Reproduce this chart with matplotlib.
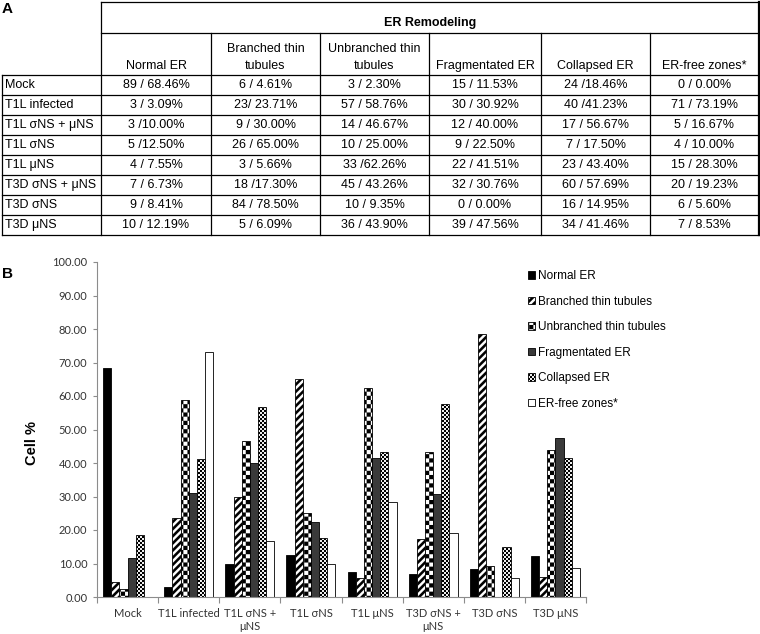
import numpy as np
import matplotlib
matplotlib.use("Agg")
import matplotlib.pyplot as plt
import matplotlib.hatch as mhatch
from matplotlib.path import Path

groups = ["Mock", "T1L infected", "T1L σNS + μNS", "T1L σNS", "T1L μNS",
          "T3D σNS + μNS", "T3D σNS", "T3D μNS"]
group_ticks = ["Mock", "T1L infected", "T1L σNS +\nμNS", "T1L σNS", "T1L μNS",
               "T3D σNS +\nμNS", "T3D σNS", "T3D μNS"]
categories = ["Normal ER", "Branched thin tubules", "Unbranched thin tubules",
              "Fragmentated ER", "Collapsed ER", "ER-free zones*"]
col_headers = ["Normal ER", "Branched thin\ntubules", "Unbranched thin\ntubules",
               "Fragmentated ER", "Collapsed ER", "ER-free zones*"]

# cell counts / percentages, one list per column of the table
normal_er = ["89 / 68.46%", "3 / 3.09%", "3 /10.00%", "5 /12.50%", "4 / 7.55%",
             "7 / 6.73%", "9 / 8.41%", "10 / 12.19%"]
branched = ["6 / 4.61%", "23/ 23.71%", "9 / 30.00%", "26 / 65.00%", "3 / 5.66%",
            "18 /17.30%", "84 / 78.50%", "5 / 6.09%"]
unbranched = ["3 / 2.30%", "57 / 58.76%", "14 / 46.67%", "10 / 25.00%", "33 /62.26%",
              "45 / 43.26%", "10 / 9.35%", "36 / 43.90%"]
fragmented = ["15 / 11.53%", "30 / 30.92%", "12 / 40.00%", "9 / 22.50%", "22 / 41.51%",
              "32 / 30.76%", "0 / 0.00%", "39 / 47.56%"]
collapsed = ["24 /18.46%", "40 /41.23%", "17 / 56.67%", "7 / 17.50%", "23 / 43.40%",
             "60 / 57.69%", "16 / 14.95%", "34 / 41.46%"]
er_free = ["0 / 0.00%", "71 / 73.19%", "5 / 16.67%", "4 / 10.00%", "15 / 28.30%",
           "20 / 19.23%", "6 / 5.60%", "7 / 8.53%"]
columns = [normal_er, branched, unbranched, fragmented, collapsed, er_free]


def pct(cell):
    return float(cell.split("/")[1].strip().rstrip("%"))


# --- Excel-like fill patterns, drawn as filled hatch shapes ---
SQUARE_CODES = [Path.MOVETO, Path.LINETO, Path.LINETO, Path.LINETO, Path.CLOSEPOLY]


class WideStripes(mhatch.HatchPatternBase):
    def __init__(self, hatch, density):
        self.n = hatch.count("/") * 14
        self.num_vertices = self.n * 2 * 5

    def set_vertices_and_codes(self, vertices, codes):
        n = self.n
        w = 0.5 / n
        s = np.arange(-n, n) / n
        band = np.array([[0, 0], [w, 0], [1 + w, 1], [1, 1], [0, 0]])
        shift = np.stack([s, np.zeros_like(s)], 1)
        vertices[:] = (band[None] + shift[:, None]).reshape(-1, 2)
        codes[:] = np.tile(SQUARE_CODES, 2 * n)


class Checker(mhatch.HatchPatternBase):
    key, cells = "O", 24

    def __init__(self, hatch, density):
        self.n = self.cells * hatch.count(self.key)
        self.num_vertices = 5 * (self.n * self.n // 2)

    def set_vertices_and_codes(self, vertices, codes):
        n = self.n
        i, j = np.meshgrid(np.arange(n), np.arange(n))
        on = (i + j) % 2 == 0
        corners = np.stack([i[on], j[on]], 1) / n
        unit = np.array([[0, 0], [1, 0], [1, 1], [0, 1], [0, 0]]) / n
        vertices[:] = (corners[:, None] + unit[None]).reshape(-1, 2)
        codes[:] = np.tile(SQUARE_CODES, len(corners))


class FineChecker(Checker):
    key, cells = "o", 50


mhatch._hatch_types[:] = [WideStripes, Checker, FineChecker]
plt.rcParams["hatch.linewidth"] = 0.05

styles = [dict(facecolor="black"),
          dict(facecolor="white", hatch="/"),
          dict(facecolor="white", hatch="O"),
          dict(facecolor="#3a3a3a"),
          dict(facecolor="white", hatch="o"),
          dict(facecolor="white")]

W, H = 760, 634
fig = plt.figure(figsize=(W / 100, H / 100), dpi=100)

# --- panel A: table, drawn in pixel coordinates ---
tab = fig.add_axes([0, 0, 1, 1])
tab.set_xlim(0, W)
tab.set_ylim(H, 0)
tab.axis("off")

tfont = dict(family="Liberation Sans", fontsize=9, color="black")
col_x = [101, 211, 320, 429, 541, 650, 759]
left, top, head_split, head_bottom, row_h = 2, 2, 33, 75, 20
row_y = head_bottom + row_h * np.arange(len(groups) + 1)
lk = dict(color="black", lw=0.9, solid_capstyle="projecting")

tab.plot([col_x[0], col_x[-1]], [top, top], **lk)
tab.plot([col_x[0], col_x[-1]], [head_split, head_split], **lk)
for y in row_y:
    tab.plot([left, col_x[-1]], [y, y], **lk)
tab.plot([left, left], [row_y[0], row_y[-1]], **lk)
tab.plot([col_x[0], col_x[0]], [top, row_y[-1]], **lk)
tab.plot([col_x[-1], col_x[-1]], [top, row_y[-1]], color="black", lw=1.6)
for x in col_x[1:-1]:
    tab.plot([x, x], [head_split, row_y[-1]], **lk)

tab.text((col_x[0] + col_x[-1]) / 2, 29, "ER Remodeling", ha="center", va="bottom",
         fontweight="bold", **tfont)
for c, head in enumerate(col_headers):
    tab.text((col_x[c] + col_x[c + 1]) / 2, 72, head, ha="center", va="bottom",
             linespacing=1.6, **tfont)
for r, g in enumerate(groups):
    yc = (row_y[r] + row_y[r + 1]) / 2
    tab.text(left + 3, yc, g, ha="left", va="center", **tfont)
    for c, col in enumerate(columns):
        tab.text((col_x[c] + col_x[c + 1]) / 2, yc, col[r], ha="center", va="center",
                 **tfont)

tab.text(2, 2, "A", ha="left", va="top", family="Liberation Sans", fontsize=11,
         fontweight="bold")
tab.text(2, 267, "B", ha="left", va="top", family="Liberation Sans", fontsize=11,
         fontweight="bold")
tab.text(32, 443, "Cell %", rotation=90, ha="center", va="center",
         family="Liberation Sans", fontsize=10.5, fontweight="bold")

# --- panel B: grouped bars ---
ax = fig.add_axes([97 / W, 1 - 597 / H, 489 / W, 335 / H])
x = np.arange(len(groups))
w = 1 / 7.5
for k, (cat, col) in enumerate(zip(categories, columns)):
    ax.bar(x + (k - 2.5) * w, [pct(v) for v in col], width=w, edgecolor="black",
           linewidth=0.6, label=cat, **styles[k])

ax.set_xlim(-0.5, len(groups) - 0.5)
ax.set_ylim(0, 100)
for side in ["top", "right"]:
    ax.spines[side].set_visible(False)
for side in ["left", "bottom"]:
    ax.spines[side].set_color("#8c8c8c")
    ax.spines[side].set_linewidth(0.8)

ax.set_yticks(np.arange(0, 101, 10))
ax.set_yticklabels([f"{v:.2f}" for v in np.arange(0, 101, 10)],
                   family=["Lato", "DejaVu Sans"], fontsize=8, color="#333333")
ax.tick_params(axis="y", length=3, width=0.8, color="#8c8c8c", pad=4)
ax.set_xticks(np.arange(-0.5, len(groups)))
ax.set_xticklabels([])
ax.tick_params(axis="x", which="major", length=4, width=0.8, color="#8c8c8c")
ax.set_xticks(x, minor=True)
ax.set_xticklabels(group_ticks, minor=True, family=["Lato", "DejaVu Sans"],
                   fontsize=8, color="#333333", linespacing=1.2)
ax.tick_params(axis="x", which="minor", length=0, pad=8)

handles, labels = ax.get_legend_handles_labels()
fig.legend(handles, labels, loc="upper left", bbox_to_anchor=(528 / W, 1 - 270 / H),
           frameon=False, handlelength=0.6, handleheight=0.6, handletextpad=0.25,
           labelspacing=1.15, borderpad=0, borderaxespad=0,
           prop=dict(family="Liberation Sans", size=8.5))

fig.savefig("out.png", dpi=100)
